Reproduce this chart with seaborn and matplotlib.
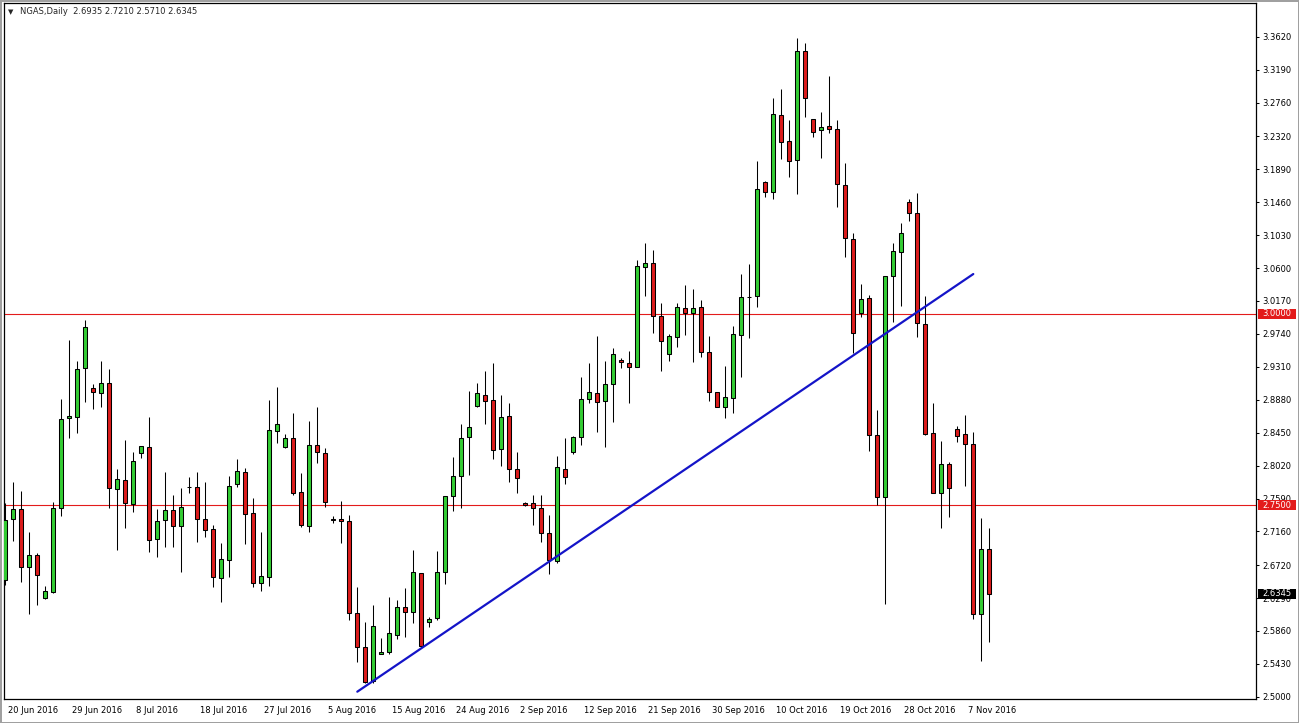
import matplotlib
matplotlib.use("Agg")
import matplotlib.pyplot as plt
from matplotlib.patches import Rectangle
from matplotlib.transforms import ScaledTranslation
import numpy as np
import pandas as pd
import seaborn as sns

# NGAS daily bars, 20 Jun 2016 .. 10 Nov 2016 (broker has Sunday sessions too)
opens = [2.6526, 2.7323, 2.7453, 2.6696, 2.6853, 2.6291, 2.6369, 2.7466, 2.8642, 2.8655,
         2.9295, 2.9034, 2.8968, 2.9099, 2.7714, 2.7832, 2.7519, 2.8185, 2.8263, 2.7061,
         2.7310, 2.7440, 2.7231, 2.7741, 2.7741, 2.7323, 2.7192, 2.6552, 2.6787, 2.7780,
         2.7937, 2.7401, 2.6487, 2.6565, 2.8472, 2.8263, 2.8381, 2.7675, 2.7231, 2.8289,
         2.8185, 2.7323, 2.7323, 2.7297, 2.6095, 2.5651, 2.5207, 2.5560, 2.5586, 2.5808,
         2.6173, 2.6108, 2.6617, 2.5978, 2.6030, 2.6631, 2.7623, 2.7884, 2.8394, 2.8798,
         2.8942, 2.8877, 2.8237, 2.8668, 2.7976, 2.7532, 2.7532, 2.7466, 2.7140, 2.6774,
         2.7976, 2.8198, 2.8394, 2.8890, 2.8968, 2.8864, 2.9086, 2.9399, 2.9360, 2.9308,
         3.0614, 3.0666, 2.9974, 2.9478, 2.9700, 3.0078, 3.0013, 3.0091, 2.9504, 2.8981,
         2.8785, 2.8903, 2.9726, 3.0222, 3.0235, 3.1724, 3.1593, 3.2599, 3.2259, 3.2011,
         3.3435, 3.2547, 3.2403, 3.2455, 3.2416, 3.1685, 3.0980, 3.0013, 3.0209, 2.8420,
         2.7610, 3.0496, 3.0810, 3.1463, 3.1319, 2.9869, 2.8446, 2.7662, 2.8041, 2.8498,
         2.8433, 2.8302, 2.6082, 2.6935]
highs = [2.7532, 2.7806, 2.7688, 2.7153, 2.6879, 2.6448, 2.7545, 2.8890, 2.9660, 2.9386,
         2.9922, 2.9086, 2.9386, 2.9282, 2.7976, 2.8354, 2.8198, 2.8276, 2.8655, 2.7453,
         2.7937, 2.7636, 2.7728, 2.7871, 2.7937, 2.7806, 2.7244, 2.7009, 2.7884, 2.8106,
         2.7989, 2.7597, 2.7153, 2.8877, 2.9047, 2.8433, 2.8707, 2.7923, 2.8603, 2.8785,
         2.8250, 2.7362, 2.7558, 2.7375, 2.6435, 2.5978, 2.6200, 2.5769, 2.6304, 2.6265,
         2.6422, 2.6918, 2.6617, 2.6043, 2.6905, 2.7623, 2.8132, 2.8563, 2.8994, 2.9099,
         2.9256, 2.9360, 2.8942, 2.8838, 2.8198, 2.7545, 2.7636, 2.7636, 2.7375, 2.8145,
         2.8381, 2.8407, 2.9177, 2.9360, 2.9713, 2.9386, 2.9556, 2.9425, 2.9517, 3.0705,
         3.0927, 3.0836, 3.0144, 2.9739, 3.0144, 3.0379, 3.0327, 3.0183, 2.9713, 2.8981,
         2.9321, 2.9843, 3.0522, 3.0653, 3.1998, 3.1737, 3.2821, 3.2939, 3.2534, 3.3605,
         3.3539, 3.2547, 3.2638, 3.3108, 3.2534, 3.1972, 3.1058, 3.0392, 3.0248, 2.8746,
         3.0496, 3.0927, 3.1188, 3.1502, 3.1580, 3.0235, 2.8838, 2.8341, 2.8067, 2.8537,
         2.8681, 2.8459, 2.7336, 2.7210]
lows = [2.6461, 2.7035, 2.6500, 2.6082, 2.6200, 2.6278, 2.6356, 2.7362, 2.8381, 2.8446,
        2.8851, 2.8759, 2.8785, 2.7466, 2.6918, 2.7205, 2.7414, 2.8119, 2.6892, 2.6826,
        2.6957, 2.6957, 2.6631, 2.7662, 2.7022, 2.7088, 2.6435, 2.6239, 2.6565, 2.7741,
        2.6996, 2.6435, 2.6382, 2.6448, 2.8315, 2.8250, 2.7636, 2.7218, 2.7153, 2.8054,
        2.7479, 2.7270, 2.7009, 2.6004, 2.5455, 2.5181, 2.5181, 2.5560, 2.5560, 2.5755,
        2.5782, 2.5964, 2.5651, 2.5912, 2.6004, 2.6474, 2.7427, 2.7466, 2.7897, 2.8785,
        2.8563, 2.8106, 2.8015, 2.7806, 2.7662, 2.7492, 2.7244, 2.7022, 2.6604, 2.6748,
        2.7780, 2.8172, 2.8289, 2.8838, 2.8459, 2.8263, 2.8590, 2.9295, 2.8838, 2.9308,
        3.0235, 2.9752, 2.9256, 2.9386, 2.9569, 2.9726, 2.9373, 2.9438, 2.8864, 2.8785,
        2.8642, 2.8707, 2.9177, 2.9687, 3.0091, 3.1528, 3.1502, 3.2024, 3.1789, 3.1567,
        3.2573, 3.2312, 3.2037, 3.2364, 3.1397, 3.0744, 2.9491, 2.9961, 2.8211, 2.7506,
        2.6213, 2.9896, 3.0104, 3.1215, 2.9700, 2.8420, 2.7662, 2.7205, 2.7349, 2.8328,
        2.7754, 2.6017, 2.5468, 2.5710]
closes = [2.7310, 2.7453, 2.6696, 2.6853, 2.6591, 2.6382, 2.7466, 2.8629, 2.8668, 2.9282,
          2.9830, 2.8981, 2.9099, 2.7728, 2.7845, 2.7532, 2.8080, 2.8276, 2.7048, 2.7297,
          2.7440, 2.7231, 2.7479, 2.7741, 2.7323, 2.7179, 2.6565, 2.6800, 2.7754, 2.7950,
          2.7388, 2.6487, 2.6578, 2.8485, 2.8563, 2.8381, 2.7662, 2.7244, 2.8289, 2.8198,
          2.7545, 2.7310, 2.7297, 2.6095, 2.5651, 2.5194, 2.5925, 2.5586, 2.5834, 2.6173,
          2.6108, 2.6631, 2.5664, 2.6017, 2.6631, 2.7623, 2.7884, 2.8381, 2.8524, 2.8968,
          2.8864, 2.8224, 2.8655, 2.7976, 2.7858, 2.7506, 2.7466, 2.7140, 2.6787, 2.8002,
          2.7871, 2.8394, 2.8890, 2.8981, 2.8851, 2.9086, 2.9478, 2.9373, 2.9308, 3.0627,
          3.0666, 2.9974, 2.9647, 2.9713, 3.0091, 3.0013, 3.0078, 2.9504, 2.8981, 2.8785,
          2.8916, 2.9739, 3.0222, 3.0222, 3.1633, 3.1593, 3.2612, 3.2246, 3.1998, 3.3435,
          3.2821, 3.2377, 3.2442, 3.2416, 3.1698, 3.0993, 2.9752, 3.0196, 2.8420, 2.7610,
          3.0496, 3.0823, 3.1058, 3.1319, 2.9882, 2.8433, 2.7662, 2.8041, 2.7728, 2.8407,
          2.8302, 2.6082, 2.6931, 2.6345]

date_labels = ["20 Jun 2016", "29 Jun 2016", "8 Jul 2016", "18 Jul 2016", "27 Jul 2016",
               "5 Aug 2016", "15 Aug 2016", "24 Aug 2016", "2 Sep 2016", "12 Sep 2016",
               "21 Sep 2016", "30 Sep 2016", "10 Oct 2016", "19 Oct 2016", "28 Oct 2016",
               "7 Nov 2016"]
price_ticks = [3.3620, 3.3190, 3.2760, 3.2320, 3.1890, 3.1460, 3.1030, 3.0600, 3.0170,
               2.9740, 2.9310, 2.8880, 2.8450, 2.8020, 2.7590, 2.7160, 2.6720, 2.6290,
               2.5860, 2.5430, 2.5000]

# hand drawn trend line (bar index, price) and horizontal levels
trend_x = [44.0, 121.0]
trend_y = [2.5067, 3.0522]
levels = [3.0, 2.75]
last_price = 2.6345

df = pd.DataFrame({"open": opens, "high": highs, "low": lows, "close": closes})
df["bar"] = np.arange(len(df))
df["body_lo"] = df[["open", "close"]].min(axis=1)
df["body_h"] = (df["close"] - df["open"]).abs()

BULL = "#33cc33"
BEAR = "#dc1c1c"
LEVEL_RED = "#e31b1b"

sns.set_style("white")
plt.rcParams["font.family"] = ["DejaVu Sans"]

fig = plt.figure(figsize=(12.99, 7.23), dpi=100)
W, H = 1299, 723
ax = fig.add_axes([4 / W, 1 - 699 / H, 1252 / W, 696 / H])

# wicks then bodies
ax.vlines(df["bar"], df["low"], df["high"], color="black", linewidth=0.75, zorder=2)
fills = [BULL if c >= o else BEAR for o, c in zip(df["open"], df["close"])]
ax.bar(df["bar"], df["body_h"], bottom=df["body_lo"], width=0.5, color=fills,
       edgecolor="black", linewidth=0.75, zorder=3)

for lv in levels:
    ax.axhline(lv, color=LEVEL_RED, linewidth=0.8, zorder=1)

sns.lineplot(x=trend_x, y=trend_y, ax=ax, color="#1414c8", linewidth=1.6, zorder=4)

px = 0.0013061  # price per pixel
ax.set_xlim(-0.1625, 156.34)
ax.set_ylim(3.0 - (699 - 314) * px, 3.0 + (314 - 3) * px)

# axes look of the terminal
for sp in ax.spines.values():
    sp.set_visible(True)
    sp.set_color("black")
    sp.set_linewidth(0.9)

ax.yaxis.tick_right()
ax.set_yticks(price_ticks)
ax.set_yticklabels([f"{v:.4f}" for v in price_ticks])
ax.tick_params(axis="y", direction="out", length=2.2, width=0.75, pad=2.5,
               labelsize=6, colors="black")

ax.set_xticks(np.arange(0, 8 * len(date_labels), 8))
ax.set_xticklabels(date_labels)
ax.tick_params(axis="x", direction="out", length=3.5, width=0.75, pad=1.5,
               labelsize=6, colors="black")
shift = ScaledTranslation(2 / 72, 0, fig.dpi_scale_trans)
for lab in ax.get_xticklabels():
    lab.set_horizontalalignment("left")
    lab.set_transform(lab.get_transform() + shift)
ax.set_xlabel("")
ax.set_ylabel("")

# price boxes on the right scale
def price_box(y, face, text):
    tr = ax.get_yaxis_transform()
    x0 = (1258 - 4) / 1252
    w = 38 / 1252
    h = 10 * px
    ax.add_patch(Rectangle((x0, y - h / 2), w, h, transform=tr, facecolor=face,
                           edgecolor="none", clip_on=False, zorder=5))
    ax.text(x0 + w / 2, y, text, transform=tr, ha="center", va="center",
            color="white", fontsize=6, zorder=6, clip_on=False)

for lv in levels:
    price_box(lv, LEVEL_RED, f"{lv:.4f}")
price_box(last_price, "black", f"{last_price:.4f}")

# header line
fig.text(11 / W, 1 - 12 / H, "\u25bc", fontsize=5, ha="center", va="center")
fig.text(20 / W, 1 - 12 / H,
         f"NGAS,Daily  {opens[-1]:.4f} {highs[-1]:.4f} {lows[-1]:.4f} {closes[-1]:.4f}",
         fontsize=6, ha="left", va="center")

fig.patch.set_facecolor("white")
fig.patch.set_edgecolor("#a0a0a0")
fig.patch.set_linewidth(2)

fig.savefig("out.png", dpi=100)
